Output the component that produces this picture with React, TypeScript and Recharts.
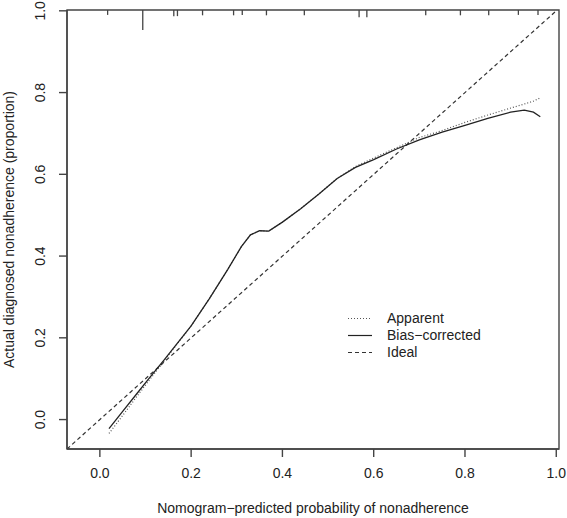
import { LineChart, Line, XAxis, YAxis, ReferenceArea } from 'recharts';

// calibration curve
const predX = [0.02, 0.05, 0.08, 0.11, 0.14, 0.17, 0.2, 0.24, 0.28, 0.31, 0.33, 0.35, 0.37, 0.4, 0.44, 0.48, 0.52, 0.56, 0.6, 0.65, 0.7, 0.75, 0.8, 0.85, 0.9, 0.93, 0.95, 0.965];
const biasY = [-0.022, 0.02, 0.062, 0.104, 0.145, 0.187, 0.229, 0.296, 0.367, 0.423, 0.452, 0.462, 0.461, 0.483, 0.516, 0.552, 0.59, 0.617, 0.636, 0.662, 0.684, 0.703, 0.72, 0.737, 0.752, 0.757, 0.752, 0.741];
const apparentY = [-0.034, 0.01, 0.055, 0.099, 0.142, 0.186, 0.229, 0.296, 0.367, 0.423, 0.452, 0.462, 0.461, 0.483, 0.516, 0.552, 0.59, 0.619, 0.64, 0.665, 0.69, 0.707, 0.727, 0.745, 0.762, 0.772, 0.779, 0.787];
const idealX = [-0.072, 1.002];

// rug of predicted probabilities along the top
const rugX = [0.017, 0.094, 0.162, 0.17, 0.225, 0.293, 0.312, 0.365, 0.448, 0.568, 0.585, 0.714, 0.79, 0.852, 0.917, 0.96];
const rugLen = [0.012, 0.049, 0.015, 0.015, 0.013, 0.013, 0.012, 0.013, 0.013, 0.018, 0.018, 0.013, 0.013, 0.013, 0.012, 0.012];

const xTicks = [0, 0.2, 0.4, 0.6, 0.8, 1.0];
const yTicks = [0, 0.2, 0.4, 0.6, 0.8, 1.0];
const xDomain = [-0.072, 1.006];
const yDomain = [-0.072, 1.002];

const legendItems = [
  { name: 'Apparent', dash: '1 2', color: '#555' },
  { name: 'Bias\u2212corrected', dash: '', color: '#222' },
  { name: 'Ideal', dash: '4 3', color: '#333' },
];

const FONT = '"Liberation Sans", Arial, sans-serif';
const boxLine = { stroke: '#444', strokeWidth: 1.4 };

const YTick = (props: any) => {
  const { y, payload } = props;
  return (
    <text x={40} y={y} transform={`rotate(-90, 40, ${y})`} textAnchor="middle" dominantBaseline="central" fontSize={14} fill="#222" fontFamily={FONT}>
      {payload.value.toFixed(1)}
    </text>
  );
};

export default function App() {
  const bias = predX.map((x, i) => ({ x, y: biasY[i] }));
  const apparent = predX.map((x, i) => ({ x, y: apparentY[i] }));
  const ideal = idealX.map((x) => ({ x, y: x }));
  const rug = rugX.map((x, i) => [{ x, y: 1.002 }, { x, y: 1.002 - rugLen[i] }]);

  return (
    <div style={{ position: 'absolute', left: 0, top: 0, width: 567, height: 518, background: '#fff', fontFamily: FONT }}>
      <LineChart width={567} height={518} margin={{ top: 10, right: 8, left: 0, bottom: 0 }}>
        <XAxis
          dataKey="x" type="number" domain={xDomain} ticks={xTicks} allowDataOverflow
          tickFormatter={(v: number) => v.toFixed(1)}
          height={69} tickSize={8} tickMargin={11}
          axisLine={boxLine} tickLine={boxLine}
          tick={{ fill: '#222', fontSize: 14, fontFamily: FONT }}
          label={{ value: 'Nomogram\u2212predicted probability of nonadherence', position: 'insideBottom', offset: 5, fill: '#222', fontSize: 14, fontFamily: FONT }}
        />
        <YAxis
          dataKey="y" type="number" domain={yDomain} ticks={yTicks} allowDataOverflow
          width={67} tickSize={8} tick={<YTick />}
          axisLine={boxLine} tickLine={boxLine}
          label={{ value: 'Actual diagnosed nonadherence (proportion)', angle: -90, position: 'insideLeft', offset: 9, fill: '#222', fontSize: 14, fontFamily: FONT, style: { textAnchor: 'middle' } }}
        />
        <ReferenceArea x1={xDomain[0]} x2={xDomain[1]} y1={yDomain[0]} y2={yDomain[1]} fill="none" stroke="#444" strokeWidth={1.4} fillOpacity={0} strokeOpacity={1} ifOverflow="visible" />
        {rug.map((seg, i) => (
          <Line key={`rug${i}`} data={seg} dataKey="y" type="linear" stroke="#444" strokeWidth={1.3} dot={false} activeDot={false} isAnimationActive={false} />
        ))}
        <Line data={ideal} dataKey="y" type="linear" stroke="#333" strokeWidth={1.2} strokeDasharray="4 3" dot={false} isAnimationActive={false} />
        <Line data={apparent} dataKey="y" type="linear" stroke="#555" strokeWidth={1.2} strokeDasharray="1 2" dot={false} isAnimationActive={false} />
        <Line data={bias} dataKey="y" type="linear" stroke="#222" strokeWidth={1.3} dot={false} isAnimationActive={false} />
      </LineChart>
      <div style={{ position: 'absolute', left: 346, top: 310, fontSize: 14, color: '#222', lineHeight: '17px' }}>
        {legendItems.map((it) => (
          <div key={it.name} style={{ display: 'flex', alignItems: 'center', height: 17 }}>
            <svg width={28} height={17} style={{ marginRight: 13 }}>
              <line x1={2} y1={8.5} x2={26} y2={8.5} stroke={it.color} strokeWidth={1.2} strokeDasharray={it.dash || undefined} />
            </svg>
            <span>{it.name}</span>
          </div>
        ))}
      </div>
    </div>
  );
}
